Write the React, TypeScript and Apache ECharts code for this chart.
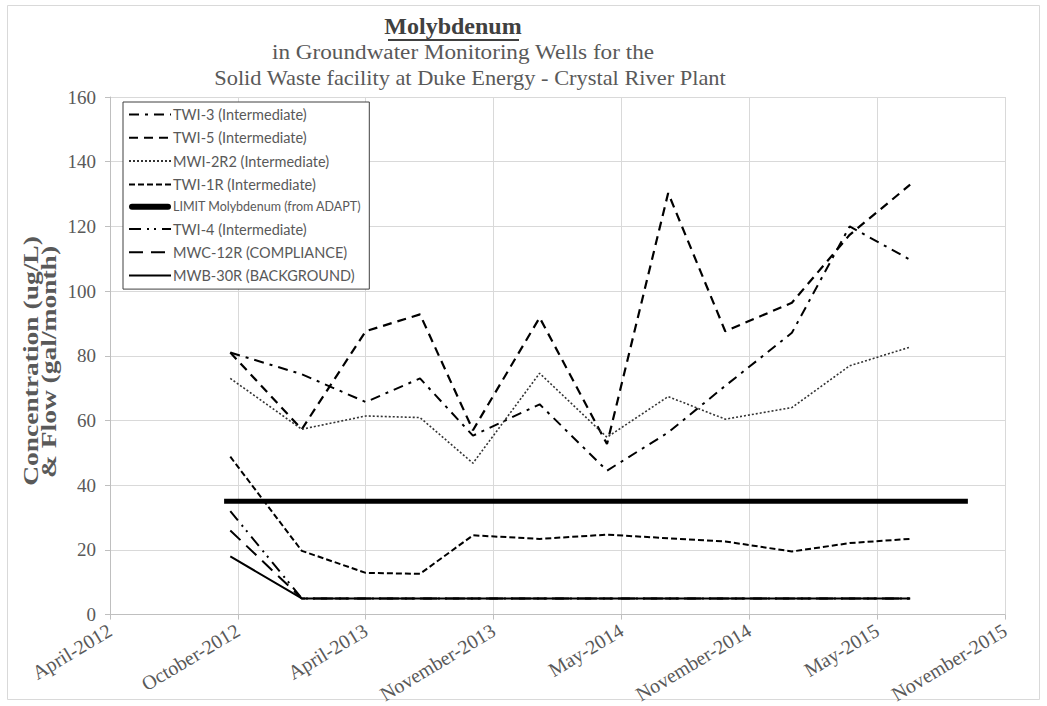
import React, { useEffect, useRef } from "react";
import * as echarts from "echarts";

const START = Date.UTC(2012, 3, 22);
const DAY = 86400000;
const MONTHS = ["January","February","March","April","May","June","July","August","September","October","November","December"];

const sampleDates = ["2012-10-14","2013-01-26","2013-04-29","2013-07-17","2013-10-02","2014-01-07","2014-04-15","2014-07-13","2014-10-04","2015-01-09","2015-04-03","2015-06-30"];
const twi3 = [81, 74.3, 65.7, 73, 55.3, 65, 44.5, 56.3, 70.7, 87.1, 120, 109.7];
const twi5 = [81, 57.3, 87.6, 92.8, 57, 91.8, 52.7, 130.3, 87.6, 96.4, 117.4, 132.9];
const mwi2r2 = [73, 57.3, 61.4, 60.9, 46.8, 74.6, 54.8, 67.4, 60.4, 64, 76.9, 82.7];
const twi1r = [48.8, 19.7, 12.9, 12.6, 24.5, 23.4, 24.7, 23.6, 22.6, 19.5, 22.1, 23.4];
const twi4 = [32, 5, 5, 5, 5, 5, 5, 5, 5, 5, 5, 5];
const mwc12r = [26, 5, 5, 5, 5, 5, 5, 5, 5, 5, 5, 5];
const mwb30r = [18, 5, 5, 5, 5, 5, 5, 5, 5, 5, 5, 5];
const limitDates = ["2012-10-05", "2015-09-22"];
const limitValues = [35, 35];

const toDay = (s: string) => (Date.parse(s + "T00:00:00Z") - START) / DAY;
const pairs = (dates: string[], vals: number[]) => vals.map((v, i) => [toDay(dates[i]), v]);

export default function App() {
  const ref = useRef<HTMLDivElement>(null);
  useEffect(() => {
    if (!ref.current) return;
    const chart = echarts.init(ref.current, null, { renderer: "svg" });
    const serif = "'Liberation Serif', 'Times New Roman', serif";
    const mk = (name: string, data: number[][], type: any, width: number, color = "#000") => ({
      name,
      type: "line",
      data,
      symbol: "none",
      showSymbol: false,
      silent: true,
      lineStyle: { color, width, type, cap: "butt" },
      itemStyle: { color, opacity: 0 },
      emphasis: { disabled: true },
    });
    const legendFont = "Lato, 'Noto Sans', sans-serif";
    chart.setOption({
      animation: false,
      backgroundColor: "#fff",
      grid: { left: 110, right: 42, top: 97, bottom: 90, containLabel: false },
      legend: {
        orient: "vertical",
        left: 123,
        top: 102,
        padding: [5, 8, 6, 5],
        itemGap: 8.3,
        itemWidth: 42,
        itemHeight: 14,
        backgroundColor: "#fff",
        borderColor: "#404040",
        borderWidth: 1,
        selectedMode: false,
        itemStyle: { opacity: 0 },
        textStyle: { fontFamily: legendFont, fontSize: 14.5, color: "#595959", padding: [0, 0, 0, -3] },
        data: [
          "TWI-3 (Intermediate)",
          "TWI-5 (Intermediate)",
          "MWI-2R2 (Intermediate)",
          "TWI-1R (Intermediate)",
          {
            name: "LIMIT Molybdenum (from ADAPT)",
            icon: "path://M3,0 L39,0 A3,3 0 0 1 39,6 L3,6 A3,3 0 0 1 3,0 Z",
            itemStyle: { opacity: 1, color: "#000" },
            textStyle: { fontSize: 12.5 },
          },
          "TWI-4 (Intermediate)",
          "MWC-12R (COMPLIANCE)",
          "MWB-30R (BACKGROUND)",
        ],
      },
      xAxis: {
        type: "value",
        min: 0,
        max: 1302,
        interval: 186,
        axisLine: { show: true, lineStyle: { color: "#bfbfbf" } },
        axisTick: { show: true, length: 5, lineStyle: { color: "#bfbfbf" } },
        splitLine: { show: true, lineStyle: { color: "#d9d9d9" } },
        axisLabel: {
          rotate: 31,
          margin: 14,
          fontFamily: serif,
          fontSize: 20,
          color: "#595959",
          formatter: (v: number) => {
            const d = new Date(START + v * DAY);
            return MONTHS[d.getUTCMonth()] + "-" + d.getUTCFullYear();
          },
        },
      },
      yAxis: {
        type: "value",
        min: 0,
        max: 160,
        interval: 20,
        axisLine: { show: true, lineStyle: { color: "#bfbfbf" } },
        axisTick: { show: true, length: 5, lineStyle: { color: "#bfbfbf" } },
        splitLine: { show: true, lineStyle: { color: "#d9d9d9" } },
        axisLabel: { margin: 14, fontFamily: serif, fontSize: 19, color: "#595959" },
      },
      graphic: [
        { type: "rect", shape: { x: 7.5, y: 5.5, width: 1032, height: 694 }, style: { fill: "none", stroke: "#d9d9d9", lineWidth: 1 }, silent: true },
        { type: "text", x: 453, y: 26, style: { text: "Molybdenum", font: "bold 24px " + serif, fill: "#404040", align: "center", verticalAlign: "middle" } },
        { type: "line", shape: { x1: 388, y1: 40, x2: 519, y2: 40 }, style: { stroke: "#404040", lineWidth: 2 } },
        { type: "text", x: 463, y: 53, scaleX: 1.16, style: { text: "in Groundwater Monitoring Wells for the", font: "20px " + serif, fill: "#595959", align: "center", verticalAlign: "middle" } },
        { type: "text", x: 470, y: 78, scaleX: 1.12, style: { text: "Solid Waste facility at Duke Energy - Crystal River Plant", font: "20px " + serif, fill: "#595959", align: "center", verticalAlign: "middle" } },
        { type: "text", x: 30, y: 361, rotation: Math.PI / 2, scaleX: 1.25, style: { text: "Concentration (ug/L)", font: "bold 22px " + serif, fill: "#595959", align: "center", verticalAlign: "middle" } },
        { type: "text", x: 48, y: 362, rotation: Math.PI / 2, scaleX: 1.25, style: { text: "& Flow (gal/month)", font: "bold 22px " + serif, fill: "#595959", align: "center", verticalAlign: "middle" } },
      ],
      series: [
        mk("TWI-3 (Intermediate)", pairs(sampleDates, twi3), [10, 6, 3, 6], 2),
        mk("TWI-5 (Intermediate)", pairs(sampleDates, twi5), [9, 6], 2.2),
        mk("MWI-2R2 (Intermediate)", pairs(sampleDates, mwi2r2), [2, 2], 1.6, "#333"),
        mk("TWI-1R (Intermediate)", pairs(sampleDates, twi1r), [6, 3], 2),
        mk("LIMIT Molybdenum (from ADAPT)", pairs(limitDates, limitValues), "solid", 5),
        mk("TWI-4 (Intermediate)", pairs(sampleDates, twi4), [12, 6, 2, 5, 2, 6], 2),
        mk("MWC-12R (COMPLIANCE)", pairs(sampleDates, mwc12r), [14, 8], 2),
        mk("MWB-30R (BACKGROUND)", pairs(sampleDates, mwb30r), "solid", 2),
      ],
    });
    return () => chart.dispose();
  }, []);
  return <div ref={ref} style={{ position: "fixed", left: 0, top: 0, width: 1047, height: 706 }} />;
}
